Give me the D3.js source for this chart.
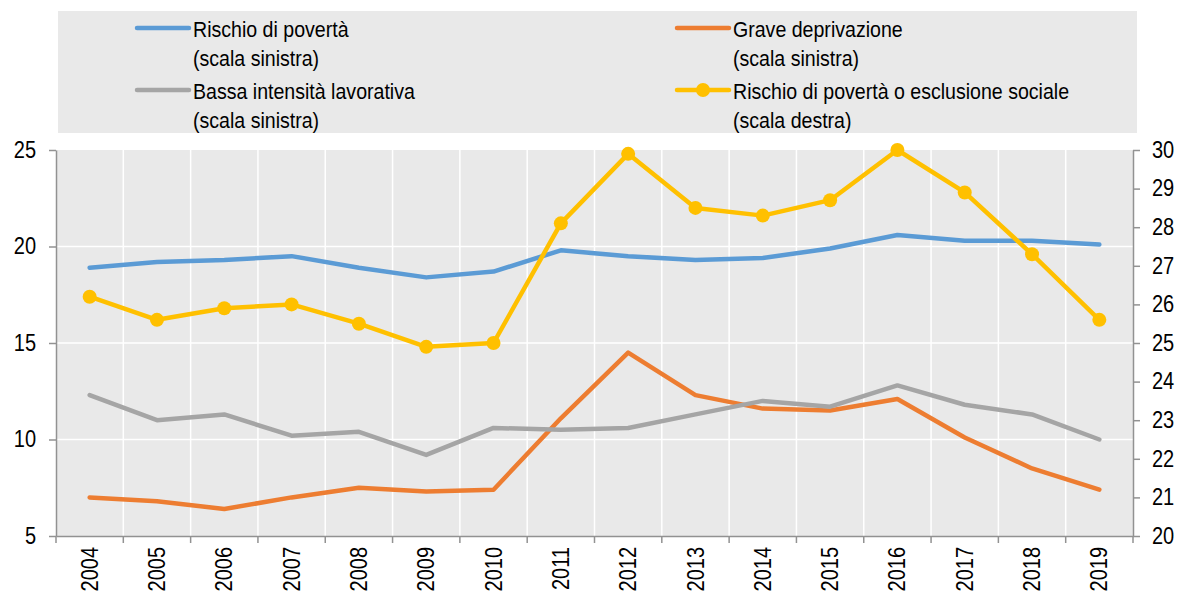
<!DOCTYPE html>
<meta charset="utf-8">
<script src="https://d3js.org/d3.v7.min.js"></script>
<style>
  body { margin: 0; background: #fff; }
  text { font-family: "Liberation Sans", Arial, sans-serif; fill: #000; }
</style>
<svg></svg>
<script>

// DATA

var years = ["2004", "2005", "2006", "2007", "2008", "2009", "2010", "2011",
             "2012", "2013", "2014", "2015", "2016", "2017", "2018", "2019"];

var rischioPoverta   = [18.9, 19.2, 19.3, 19.5, 18.9, 18.4, 18.7, 19.8, 19.5, 19.3, 19.4, 19.9, 20.6, 20.3, 20.3, 20.1];
var graveDeprivaz    = [7.0, 6.8, 6.4, 7.0, 7.5, 7.3, 7.4, 11.1, 14.5, 12.3, 11.6, 11.5, 12.1, 10.1, 8.5, 7.4];
var bassaIntensita   = [12.3, 11.0, 11.3, 10.2, 10.4, 9.2, 10.6, 10.5, 10.6, 11.3, 12.0, 11.7, 12.8, 11.8, 11.3, 10.0];
var rischioEsclusione = [26.2, 25.6, 25.9, 26.0, 25.5, 24.9, 25.0, 28.1, 29.9, 28.5, 28.3, 28.7, 30.0, 28.9, 27.3, 25.6];

var leftTicks = [5, 10, 15, 20, 25];
var rightTicks = [20, 21, 22, 23, 24, 25, 26, 27, 28, 29, 30];

var series = [
  { name: "Rischio di povertà", sub: "(scala sinistra)", values: rischioPoverta, color: "#5b9bd5", axis: "left" },
  { name: "Grave deprivazione", sub: "(scala sinistra)", values: graveDeprivaz, color: "#ed7d31", axis: "left" },
  { name: "Bassa intensità lavorativa", sub: "(scala sinistra)", values: bassaIntensita, color: "#a5a5a5", axis: "left" },
  { name: "Rischio di povertà o esclusione sociale", sub: "(scala destra)", values: rischioEsclusione, color: "#ffc000", axis: "right", markers: true }
];

// GLOBALS

var width = 1181;
var height = 598;
var plot = { left: 56, right: 1133, top: 150, bottom: 536 };
var bg = "#e9e9e9";
var axisColor = "#929292";
var sx = 0.87;          // the original type is slightly condensed

var svg = d3.select("svg")
    .attr("width", width)
    .attr("height", height);

// SCALES

var x = d3.scaleBand()
    .domain(years)
    .range([plot.left, plot.right]);

var yLeft = d3.scaleLinear()
    .domain([5, 25])
    .range([plot.bottom, plot.top]);

var yRight = d3.scaleLinear()
    .domain([20, 30])
    .range([plot.bottom, plot.top]);

// LEGEND BOX

svg.append("rect")
    .attr("x", 58)
    .attr("y", 11)
    .attr("width", 1079)
    .attr("height", 122)
    .attr("fill", bg);

var legendPos = [[135, 28], [675, 28], [135, 90], [675, 90]];

series.forEach(function(s, i) {
  var p = legendPos[i];
  var g = svg.append("g").attr("transform", "translate(" + p[0] + "," + p[1] + ")");
  g.append("line")
      .attr("x1", 2).attr("x2", 54)
      .attr("stroke", s.color)
      .attr("stroke-width", 4.5)
      .attr("stroke-linecap", "round");
  if (s.markers) {
    g.append("circle").attr("cx", 28).attr("r", 7).attr("fill", s.color);
  }
  g.append("text")
      .attr("transform", "translate(58,9) scale(" + sx + ",1)")
      .style("font-size", "22.5px")
      .text(s.name);
  g.append("text")
      .attr("transform", "translate(58,38) scale(" + sx + ",1)")
      .style("font-size", "22.5px")
      .text(s.sub);
});

// PLOT BACKGROUND AND GRID

svg.append("rect")
    .attr("x", plot.left)
    .attr("y", plot.top)
    .attr("width", plot.right - plot.left)
    .attr("height", plot.bottom - plot.top)
    .attr("fill", bg);

svg.append("g")
    .selectAll("line")
    .data(years.slice(1))
    .enter().append("line")
      .attr("x1", function(d) { return x(d); })
      .attr("x2", function(d) { return x(d); })
      .attr("y1", plot.top)
      .attr("y2", plot.bottom)
      .attr("stroke", "#fff")
      .attr("stroke-width", 1.5);

svg.append("g")
    .selectAll("line")
    .data(leftTicks.slice(1, -1))
    .enter().append("line")
      .attr("x1", plot.left)
      .attr("x2", plot.right)
      .attr("y1", function(d) { return yLeft(d); })
      .attr("y2", function(d) { return yLeft(d); })
      .attr("stroke", "#fff")
      .attr("stroke-width", 1.5);

// AXES

function styleAxis(g) {
  g.selectAll("path").attr("stroke", axisColor).attr("stroke-width", 1.5);
  g.selectAll("line").attr("stroke", axisColor).attr("stroke-width", 1.5);
  g.selectAll("text").style("font-size", "23px").attr("fill", "#000");
}

var leftAxis = svg.append("g")
    .attr("transform", "translate(" + plot.left + ",0)")
    .call(d3.axisLeft(yLeft).tickValues(leftTicks).tickSize(7).tickSizeOuter(0))
    .call(styleAxis);

leftAxis.selectAll(".tick text")
    .attr("x", -20 / sx)
    .attr("transform", "scale(" + sx + ",1)");

var rightAxis = svg.append("g")
    .attr("transform", "translate(" + plot.right + ",0)")
    .call(d3.axisRight(yRight).tickValues(rightTicks).tickSize(7).tickSizeOuter(0))
    .call(styleAxis);

rightAxis.selectAll(".tick text")
    .attr("x", 19 / sx)
    .attr("transform", "scale(" + sx + ",1)");

var bottomAxis = svg.append("g")
    .attr("transform", "translate(0," + plot.bottom + ")")
    .call(d3.axisBottom(x).tickSize(0).tickSizeOuter(0))
    .call(styleAxis);

bottomAxis.selectAll(".tick text")
    .attr("transform", "rotate(-90) scale(" + sx + ",1)")
    .attr("text-anchor", "end")
    .attr("x", -11 / sx)
    .attr("y", 0)
    .attr("dy", "0.35em");

// tick marks at category boundaries
bottomAxis.selectAll("line.sep")
    .data(years.concat(["end"]))
    .enter().append("line")
      .attr("class", "sep")
      .attr("x1", function(d, i) { return i < years.length ? x(d) : plot.right; })
      .attr("x2", function(d, i) { return i < years.length ? x(d) : plot.right; })
      .attr("y1", 0)
      .attr("y2", 7)
      .attr("stroke", axisColor)
      .attr("stroke-width", 1.5);

// LINES

series.forEach(function(s) {
  var yScale = s.axis === "left" ? yLeft : yRight;
  var line = d3.line()
      .x(function(d, i) { return x(years[i]) + x.bandwidth() / 2; })
      .y(function(d) { return yScale(d); });

  svg.append("path")
      .datum(s.values)
      .attr("d", line)
      .attr("fill", "none")
      .attr("stroke", s.color)
      .attr("stroke-width", 4.5)
      .attr("stroke-linecap", "round")
      .attr("stroke-linejoin", "round");

  if (s.markers) {
    svg.append("g")
        .selectAll("circle")
        .data(s.values)
        .enter().append("circle")
          .attr("cx", function(d, i) { return x(years[i]) + x.bandwidth() / 2; })
          .attr("cy", function(d) { return yScale(d); })
          .attr("r", 7)
          .attr("fill", s.color);
  }
});

</script>
